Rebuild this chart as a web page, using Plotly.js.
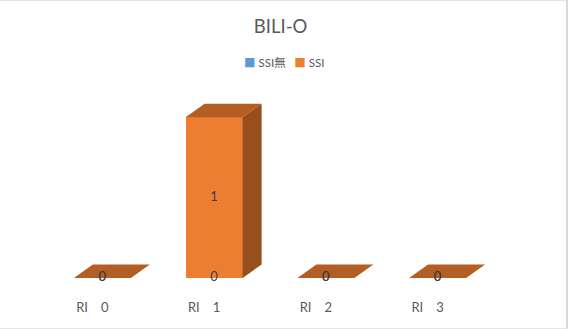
<!DOCTYPE html>
<html>
<head>
<meta charset="utf-8">
<script src="https://cdn.plot.ly/plotly-3.0.1.min.js"></script>
<style>
  html, body { margin: 0; padding: 0; background: #ffffff; }
  #wrap { position: relative; width: 575px; height: 329px; }
  #chart { position: absolute; left: 0; top: 0; width: 575px; height: 329px; }
  #frame {
    position: absolute; left: 0; top: 0; width: 566px; height: 327px;
    border-top: 1px solid #e3e3e3; border-right: 2px solid #d9d9d9; border-bottom: 1px solid #e6e6e6;
    pointer-events: none;
  }
</style>
</head>
<body>
<div id="wrap">
  <div id="chart"></div>
  <div id="frame"></div>
</div>
<script>
// Categories and the two stacked series
const categories = ['RI\u30000', 'RI\u30001', 'RI\u30002', 'RI\u30003'];
const ssiNone = [0, 0, 0, 0];
const ssi = [0, 1, 0, 0];
const seriesNames = ['SSI無', 'SSI'];

// Styling
const COLORS = { none: '#5B9BD5', ssi: '#ED7D31', top: '#B45E23', side: '#974F1D' };
const FONT = 'Lato, "Noto Sans CJK JP", "Liberation Sans", sans-serif';
const BAR_W = 0.51;     // front face width in category units
const DEPTH_X = 0.17;   // oblique depth offset (x, category units)
const DEPTH_Y = 0.084;  // oblique depth offset (y, value units)
const LABEL_SHIFT = -0.09;

const idx = categories.map((_, i) => i);
const totals = idx.map(i => ssiNone[i] + ssi[i]);

const traces = [];

// Front faces: stacked columns
traces.push({
  type: 'bar', x: idx, y: ssiNone, name: seriesNames[0], width: BAR_W,
  marker: { color: COLORS.none, line: { width: 0 } }, showlegend: false, hoverinfo: 'skip'
});
traces.push({
  type: 'bar', x: idx, y: ssi, name: seriesNames[1], width: BAR_W,
  marker: { color: COLORS.ssi, line: { width: 0 } }, showlegend: false, hoverinfo: 'skip'
});

// Oblique top and side faces for each stack
idx.forEach(i => {
  const l = i - BAR_W / 2, r = i + BAR_W / 2, t = totals[i];
  traces.push({
    type: 'scatter', mode: 'lines', fill: 'toself', fillcolor: COLORS.top,
    x: [l, r, r + DEPTH_X, l + DEPTH_X, l],
    y: [t, t, t + DEPTH_Y, t + DEPTH_Y, t],
    line: { width: 0, color: COLORS.top }, showlegend: false, hoverinfo: 'skip'
  });
  if (t > 0) {
    traces.push({
      type: 'scatter', mode: 'lines', fill: 'toself', fillcolor: COLORS.side,
      x: [r, r + DEPTH_X, r + DEPTH_X, r, r],
      y: [0, DEPTH_Y, t + DEPTH_Y, t, 0],
      line: { width: 0, color: COLORS.side }, showlegend: false, hoverinfo: 'skip'
    });
  }
});

// Data labels centred on each segment
[ssiNone, ssi].forEach((vals, s) => {
  const base = idx.map(i => (s === 0 ? 0 : ssiNone[i]));
  traces.push({
    type: 'scatter', mode: 'text', x: idx,
    y: idx.map(i => base[i] + vals[i] / 2),
    text: vals.map(String), textposition: 'middle center',
    textfont: { family: FONT, size: 13, color: '#404040' },
    cliponaxis: false, showlegend: false, hoverinfo: 'skip'
  });
});

// Legend line built from the series names
const legendText =
  '<span style="color:' + COLORS.none + '">■</span> ' + seriesNames[0] +
  '\u2003<span style="color:' + COLORS.ssi + '">■</span> ' + seriesNames[1];

const layout = {
  width: 575, height: 329,
  margin: { l: 13, r: 48, t: 85, b: 35 },
  paper_bgcolor: '#ffffff', plot_bgcolor: '#ffffff',
  barmode: 'stack',
  showlegend: false,
  title: {
    text: 'BILI-O', x: 0.488, xref: 'container', xanchor: 'center',
    y: 0.918, yref: 'container', yanchor: 'middle',
    font: { family: FONT, size: 18.5, color: '#595959' }
  },
  xaxis: {
    range: [-0.8, 3.8], showgrid: false, zeroline: false, showline: false, ticks: '',
    tickvals: idx.map(i => i + LABEL_SHIFT), ticktext: categories,
    ticklabelstandoff: 4,
    tickfont: { family: FONT, size: 13, color: '#595959' }, fixedrange: true
  },
  yaxis: { range: [-0.1, 1.2], visible: false, fixedrange: true },
  annotations: [{
    text: legendText, xref: 'paper', yref: 'paper', showarrow: false,
    x: 0.527, y: 1.108, xanchor: 'center', yanchor: 'middle',
    font: { family: FONT, size: 11.5, color: '#595959' }
  }]
};

Plotly.newPlot('chart', traces, layout, { staticPlot: true, displayModeBar: false });
</script>
</body>
</html>
